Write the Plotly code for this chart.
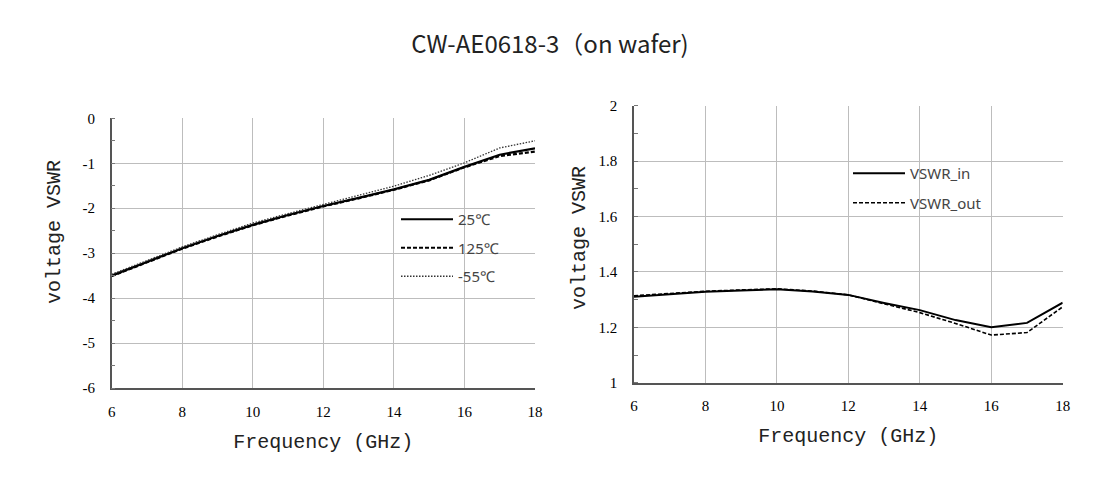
import plotly.graph_objects as go

freq = [6, 7, 8, 9, 10, 11, 12, 13, 14, 15, 16, 17, 18]

gain_25 = [-3.50, -3.19, -2.89, -2.62, -2.37, -2.15, -1.95, -1.77, -1.58, -1.37, -1.08, -0.81, -0.67]
gain_125 = [-3.51, -3.20, -2.90, -2.63, -2.38, -2.16, -1.96, -1.78, -1.59, -1.38, -1.09, -0.84, -0.74]
gain_m55 = [-3.47, -3.16, -2.86, -2.59, -2.33, -2.12, -1.92, -1.72, -1.51, -1.27, -0.99, -0.66, -0.50]

vswr_in = [1.310, 1.320, 1.328, 1.333, 1.337, 1.329, 1.317, 1.288, 1.262, 1.226, 1.200, 1.216, 1.289]
vswr_out = [1.314, 1.323, 1.330, 1.335, 1.339, 1.331, 1.317, 1.285, 1.253, 1.214, 1.172, 1.181, 1.274]

x_ticks = [6, 8, 10, 12, 14, 16, 18]
left_y_ticks = [0, -1, -2, -3, -4, -5, -6]
left_y_labels = ["0", "-1", "-2", "-3", "-4", "-5", "-6"]
right_y_ticks = [1, 1.2, 1.4, 1.6, 1.8, 2]
right_y_labels = ["1", "1.2", "1.4", "1.6", "1.8", "2"]

left_names = ["25℃", "125℃", "-55℃"]
right_names = ["VSWR_in", "VSWR_out"]
title_text = "CW-AE0618-3（on wafer)"
x_title = "Frequency (GHz)"
y_title = "voltage VSWR"

W, H = 1114, 477
OFF = 8  # page offset of the rendered figure

fig = go.Figure()

fig.add_trace(go.Scatter(x=freq, y=gain_25, name=left_names[0], mode="lines",
                         line=dict(color="black", width=2.2), xaxis="x", yaxis="y",
                         legend="legend", legendgroup="a"))
fig.add_trace(go.Scatter(x=freq, y=gain_125, name=left_names[1], mode="lines",
                         line=dict(color="black", width=2.2, dash="4px,2px"), xaxis="x", yaxis="y",
                         legend="legend", legendgroup="b"))
fig.add_trace(go.Scatter(x=freq, y=gain_m55, name=left_names[2], mode="lines",
                         line=dict(color="#333333", width=1.3, dash="1.5px,1.5px"), xaxis="x", yaxis="y",
                         legend="legend", legendgroup="c"))

fig.add_trace(go.Scatter(x=freq, y=vswr_in, name=right_names[0], mode="lines",
                         line=dict(color="black", width=2), xaxis="x2", yaxis="y2",
                         legend="legend2", legendgroup="d"))
fig.add_trace(go.Scatter(x=freq, y=vswr_out, name=right_names[1], mode="lines",
                         line=dict(color="black", width=1.6, dash="4px,2px"), xaxis="x2", yaxis="y2",
                         legend="legend2", legendgroup="e"))

tick_font = dict(family="Liberation Serif", size=15, color="#000000")
title_font = dict(family="Liberation Mono", size=20, color="#222222")
grid_c = "#bdbdbd"
axis_c = "#555555"

def xaxis_cfg(dom, anchor):
    return dict(domain=dom, anchor=anchor, range=[6, 18], tickmode="array",
                tickvals=x_ticks, ticktext=[str(v) for v in x_ticks],
                showgrid=True, gridcolor=grid_c, gridwidth=1, automargin=False,
                showline=True, linecolor=axis_c, linewidth=1.5, ticks="outside", ticklen=9,
                tickcolor="rgba(0,0,0,0)", tickfont=tick_font, zeroline=False,
                title=dict(text=x_title, font=title_font, standoff=15))

def yaxis_cfg(dom, anchor, rng, tv, tt, minor):
    return dict(domain=dom, anchor=anchor, range=rng, tickmode="array", tickvals=tv, ticktext=tt,
                showgrid=True, automargin=False,
                gridcolor=grid_c, gridwidth=1, showline=True, linecolor=axis_c, linewidth=1.5,
                ticks="outside", ticklen=12, tickcolor="rgba(0,0,0,0)", tickfont=tick_font,
                zeroline=False,
                minor=dict(dtick=minor, ticks="inside", ticklen=4, tickcolor="#777777", showgrid=False))

lx0, lx1 = (111.7 - OFF) / W, (535 - OFF) / W
ly0, ly1 = (H - 388 + OFF) / H, (H - 118.3 + OFF) / H
rx0, rx1 = (634 - OFF) / W, (1062.7 - OFF) / W
ry0, ry1 = (H - 382.7 + OFF) / H, (H - 105.7 + OFF) / H

fig.update_layout(
    width=W, height=H,
    margin=dict(l=0, r=0, t=0, b=0),
    paper_bgcolor="white", plot_bgcolor="white",
    title=dict(text=title_text, x=(550 - OFF) / W, xanchor="center", y=1 - (45 - OFF) / H,
               yanchor="middle",
               font=dict(family="Noto Sans CJK SC", size=24, color="#222222")),
    xaxis=xaxis_cfg([lx0, lx1], "y"),
    yaxis=yaxis_cfg([ly0, ly1], "x", [-6, 0], left_y_ticks, left_y_labels, 0.5),
    xaxis2=xaxis_cfg([rx0, rx1], "y2"),
    yaxis2=yaxis_cfg([ry0, ry1], "x2", [1, 2], right_y_ticks, right_y_labels, 0.1),
    legend=dict(x=388 / W, y=1 - 195 / H, xanchor="left", yanchor="top", itemwidth=52,
                bgcolor="rgba(255,255,255,0)", tracegroupgap=6, traceorder="grouped",
                font=dict(family="Noto Sans", size=15, color="#444444")),
    legend2=dict(x=840 / W, y=1 - 149 / H, xanchor="left", yanchor="top", itemwidth=52,
                 bgcolor="rgba(255,255,255,0)", tracegroupgap=7, traceorder="grouped",
                 font=dict(family="Noto Sans", size=15, color="#444444")),
    showlegend=True,
)

fig.add_annotation(text=y_title, textangle=-90, xref="paper", yref="paper",
                   x=(55 - OFF) / W, y=1 - (232 - OFF) / H, xanchor="center", yanchor="middle",
                   showarrow=False, font=title_font)
fig.add_annotation(text=y_title, textangle=-90, xref="paper", yref="paper",
                   x=(580 - OFF) / W, y=1 - (238 - OFF) / H, xanchor="center", yanchor="middle",
                   showarrow=False, font=title_font)

fig.write_html("out.html")
